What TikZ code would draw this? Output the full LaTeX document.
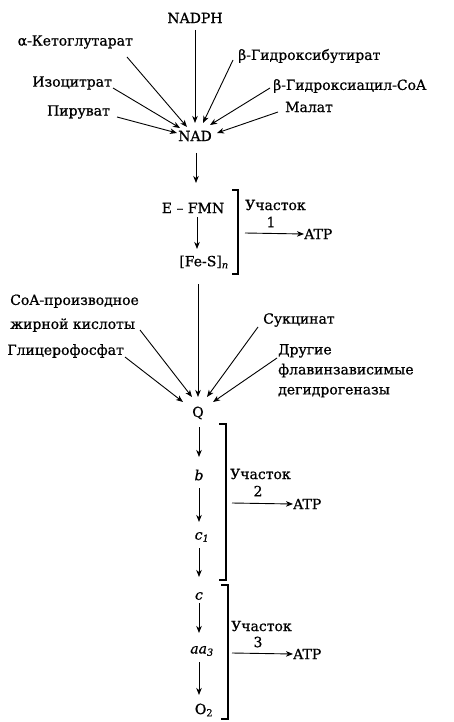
\documentclass[tikz,border=0pt]{standalone}
\usepackage{fontspec}
\setmainfont{DejaVu Serif}[FakeBold=0.8]
\usetikzlibrary{arrows.meta}
\begin{document}
\begin{tikzpicture}[x=1pt,y=-1pt,
  every node/.style={inner sep=0pt, font=\fontsize{14pt}{20pt}\selectfont},
  arr/.style={line width=0.9pt, -{Stealth[length=7pt,width=5.5pt,inset=2pt]}},
  brk/.style={line width=1.1pt}]
\useasboundingbox (0,0) rectangle (453,722);
\fill[white] (0,0) rectangle (453,722);

% ---- top sources ----
\node (nadph) at (195,18) {NADPH};
\node (nad) at (195,136) {NAD};
\node[anchor=east] (keto) at (133,42) {α-Кетоглутарат};
\node[anchor=east] (izo) at (112,83) {Изоцитрат};
\node[anchor=east] (pyr) at (110,112) {Пируват};
\node[anchor=west] (bhb) at (238,56) {β-Гидроксибутират};
\node[anchor=west] (bha) at (273,86) {β-Гидроксиацил-CoA};
\node[anchor=west] (mal) at (285,107) {Малат};

\draw[arr] ([shift={(0,12)}]nadph.center) -- ([shift={(0,-13)}]nad.center);
\draw[arr] ([shift={(-6,15)}]keto.east) -- ([shift={(-8,-9)}]nad.center);
\draw[arr] ([shift={(1,5)}]izo.east) -- ([shift={(-15,-8)}]nad.center);
\draw[arr] ([shift={(7,5)}]pyr.east) -- ([shift={(-18,-3)}]nad.center);
\draw[arr] ([shift={(-5,4)}]bhb.west) -- ([shift={(8,-13)}]nad.center);
\draw[arr] ([shift={(-3,2)}]bha.west) -- ([shift={(15,-11)}]nad.center);
\draw[arr] ([shift={(-7,5)}]mal.west) -- ([shift={(22,-3)}]nad.center);

% ---- site 1 ----
\node (efmn) at (193,208) {E – FMN};
\node (fes) at (204,262) {[Fe-S]\textsubscript{\itshape n}};
\draw[arr] ([shift={(1,17)}]nad.center) -- ([shift={(3,-25)}]efmn.center);
\draw[arr] ([shift={(4,9)}]efmn.center) -- ([shift={(-7,-13)}]fes.center);

\coordinate (b1t) at (238,190);
\coordinate (b1b) at (238,274);
\draw[brk] ([shift={(-6,0)}]b1t) -- (b1t) -- (b1b) -- ([shift={(-6,0)}]b1b);
\node[anchor=west] (u1) at (245,205) {Участок};
\node (n1) at (271,222) {1};
\coordinate (s1) at (245,233);
\node[anchor=west] (atp1) at (304,234) {ATP};
\draw[arr] (s1) -- (atp1.west);

% ---- middle sources ----
\node (q) at (198,413) {Q};
\node[anchor=south west, align=left] (coa) at (10,332) {CoA-производное\\[4pt]жирной кислоты};
\node[anchor=east] (glyc) at (124,351) {Глицерофосфат};
\node[anchor=west] (suc) at (263,320) {Сукцинат};
\node[anchor=north west, align=left] (oth) at (278,344) {Другие\\флавинзависимые\\дегидрогеназы};

\draw[arr] ([shift={(-6,22)}]fes.center) -- ([shift={(0,-16)}]q.center);
\draw[arr] ([shift={(130,-2)}]coa.south west) -- ([shift={(-6,-16)}]q.center);
\draw[arr] ([shift={(1,6)}]glyc.east) -- ([shift={(-15,-11)}]q.center);
\draw[arr] ([shift={(-5,7)}]suc.west) -- ([shift={(9,-16)}]q.center);
\draw[arr] ([shift={(-1,14)}]oth.north west) -- ([shift={(15,-11)}]q.center);

% ---- sites 2 and 3 ----
\node (b) at (199,475) {\itshape b};
\node (c1) at (202,537) {\itshape c\textsubscript{1}};
\node (c) at (199,596) {\itshape c};
\node (aa3) at (202,651) {\itshape aa\textsubscript{3}};
\node (o2) at (204,710) {O\textsubscript{2}};

\draw[arr] ([shift={(1,14)}]q.center) -- ([shift={(0,-18)}]b.center);
\draw[arr] ([shift={(0,13)}]b.center) -- ([shift={(-3,-15)}]c1.center);
\draw[arr] ([shift={(-3,11)}]c1.center) -- ([shift={(0,-19)}]c.center);
\draw[arr] ([shift={(0,7)}]c.center) -- ([shift={(-3,-18)}]aa3.center);
\draw[arr] ([shift={(-3,11)}]aa3.center) -- ([shift={(-5,-15)}]o2.center);

\coordinate (b2t) at (226,424);
\coordinate (b2b) at (226,580);
\draw[brk] ([shift={(-7,0)}]b2t) -- (b2t) -- (b2b) -- ([shift={(-7,0)}]b2b);
\node[anchor=west] (u2) at (230,474) {Участок};
\node (n2) at (258,491) {2};
\coordinate (s2) at (232,503);
\node[anchor=west] (atp2) at (293,504) {ATP};
\draw[arr] (s2) -- (atp2.west);

\coordinate (b3t) at (228,585);
\coordinate (b3b) at (228,719);
\draw[brk] ([shift={(-7,0)}]b3t) -- (b3t) -- (b3b) -- ([shift={(-7,0)}]b3b);
\node[anchor=west] (u3) at (231,626) {Участок};
\node (n3) at (258,642) {3};
\coordinate (s3) at (232,653);
\node[anchor=west] (atp3) at (293,654) {ATP};
\draw[arr] (s3) -- (atp3.west);
\end{tikzpicture}
\end{document}
